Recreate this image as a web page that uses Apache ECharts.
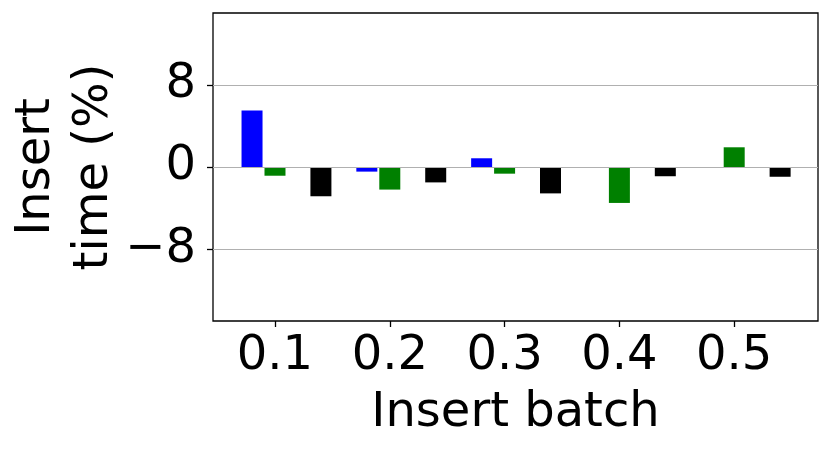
<!DOCTYPE html>
<html>
<head>
<meta charset="utf-8">
<script src="https://cdn.jsdelivr.net/npm/echarts@6/dist/echarts.min.js"></script>
<style>
  html, body { margin: 0; padding: 0; background: #fff; }
  #chart { width: 830px; height: 453px; }
</style>
</head>
<body>
<div id="chart"></div>
<script>
// batch labels on the x axis
const batchLabels = ['0.1', '0.2', '0.3', '0.4', '0.5']
// insert time change (%), one value per batch
const blueValues = [5.5, -0.45, 0.85, null, null]
const greenValues = [-0.85, -2.2, -0.65, -3.5, 1.92]
const blackValues = [-2.85, -1.5, -2.57, -0.9, -0.95]
const yTicks = [-8, 0, 8]

// bar slot offsets around each batch tick (matplotlib style)
const offsets = { blue: -0.2, green: 0, black: 0.4 }

const FONT = 'DejaVu Sans'
const FS = 48
const chart = echarts.init(document.getElementById('chart'))

const toPoints = (vals, off) => vals.map((v, i) => [i + off, v])

const barSeries = (name, vals, off, color, extra) => Object.assign({
  name: name,
  type: 'bar',
  data: toPoints(vals, off),
  barWidth: 21,
  barGap: '-100%',
  itemStyle: { color: color },
  silent: true
}, extra || {})

const option = {
  animation: false,
  grid: {
    left: 213, top: 13, right: 12, bottom: 132,
    outerBoundsMode: 'none',
    containLabel: false,
    show: true, borderColor: '#000', borderWidth: 1.3, backgroundColor: '#fff'
  },
  xAxis: {
    type: 'value',
    min: -0.54,
    max: 4.73,
    axisLine: { show: false, onZero: false },
    splitLine: { show: false },
    axisTick: {
      show: true, length: 6, inside: false,
      customValues: batchLabels.map((_, i) => i),
      lineStyle: { color: '#000', width: 1.3 }
    },
    axisLabel: {
      customValues: batchLabels.map((_, i) => i),
      formatter: v => batchLabels[Math.round(v)],
      fontFamily: FONT, fontSize: FS, color: '#000', margin: 12
    },
    name: 'Insert batch',
    nameLocation: 'middle',
    nameMoveOverlap: false,
    nameGap: 69,
    nameTextStyle: { fontFamily: FONT, fontSize: FS, color: '#000' }
  },
  yAxis: {
    type: 'value',
    min: -15,
    max: 15,
    axisLine: { show: false, onZero: false },
    splitLine: { show: false },
    axisTick: {
      show: true, length: 6, inside: false,
      customValues: yTicks,
      lineStyle: { color: '#000', width: 1.3 }
    },
    axisLabel: {
      customValues: yTicks,
      formatter: v => (v < 0 ? '\u2212' + Math.abs(v) : String(v)),
      fontFamily: FONT, fontSize: FS, color: '#000', margin: 17
    },
    name: 'Insert\ntime (%)',
    nameLocation: 'middle',
    nameRotate: 90,
    nameMoveOverlap: false,
    nameGap: 89,
    nameTextStyle: { fontFamily: FONT, fontSize: FS, color: '#000', lineHeight: 58, align: 'center' }
  },
  series: [
    barSeries('blue', blueValues, offsets.blue, '#0000ff'),
    barSeries('green', greenValues, offsets.green, '#008000', {
      markLine: {
        silent: true,
        symbol: 'none',
        label: { show: false },
        lineStyle: { color: '#b0b0b0', type: 'solid', width: 1.2 },
        data: yTicks.map(v => ({ yAxis: v }))
      }
    }),
    barSeries('black', blackValues, offsets.black, '#000000')
  ]
}

chart.setOption(option)
</script>
</body>
</html>
